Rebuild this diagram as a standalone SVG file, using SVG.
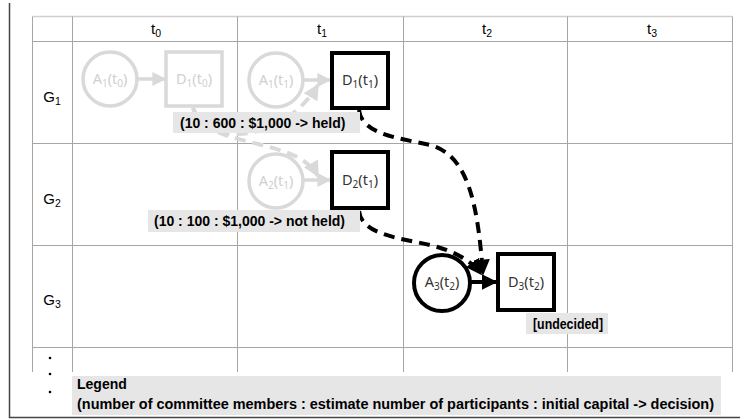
<svg xmlns="http://www.w3.org/2000/svg" width="740" height="419" viewBox="0 0 740 419">
<style>
.grid{stroke:#a6a6a6;stroke-width:1;fill:none}
.hdr{font-family:"Liberation Sans",Arial,sans-serif;font-size:15px;fill:#000;text-anchor:middle}
.nd{font-family:"Noto Sans","DejaVu Sans",sans-serif;font-size:14.5px;text-anchor:middle}
.bold{fill:#fff;stroke:#000;stroke-width:4}
.faded{fill:#fff;stroke:#d9d9d9;stroke-width:3.5}
.ft{fill:#d0d0d0}
.bt{fill:#333}
.lblbox{fill:#e6e6e6}
.lbl{font-family:"Liberation Sans",Arial,sans-serif;font-size:14px;font-weight:bold;fill:#000}
.dashb{fill:none;stroke:#000;stroke-width:4;stroke-dasharray:11 7}
.dashf{fill:none;stroke:#d9d9d9;stroke-width:4;stroke-dasharray:11 7}
</style>
<defs>
<marker id="ab" viewBox="0 0 10 10" refX="9" refY="5" markerWidth="4" markerHeight="4" markerUnits="strokeWidth" orient="auto">
<path d="M0,0 L10,5 L0,10 z" fill="#000"/>
</marker>
<marker id="af" viewBox="0 0 10 10" refX="9" refY="5" markerWidth="4" markerHeight="4" markerUnits="strokeWidth" orient="auto">
<path d="M0,0 L10,5 L0,10 z" fill="#d9d9d9"/>
</marker>
</defs>
<rect width="740" height="419" fill="#fff"/>
<!-- frame -->
<path d="M9.5,3 V417.5 H740" fill="none" stroke="#444" stroke-width="1.5"/>
<!-- table -->
<g id="table">
<line x1="32.5" y1="16.5" x2="732.5" y2="16.5" stroke="#cfcfcf" stroke-width="1.5"/>
<path class="grid" d="M32.5,41.5 H732.5 M32.5,143.5 H732.5 M32.5,245.5 H732.5 M32.5,347.5 H732.5"/>
<path class="grid" d="M32.5,16.5 V372 M72.5,16.5 V372 M237.5,16.5 V372 M403.5,16.5 V372 M567.5,16.5 V372 M732.5,16.5 V372"/>
<text class="hdr" x="156" y="34">t<tspan font-size="10.5" dy="3">0</tspan></text>
<text class="hdr" x="322" y="34">t<tspan font-size="10.5" dy="3">1</tspan></text>
<text class="hdr" x="487" y="34">t<tspan font-size="10.5" dy="3">2</tspan></text>
<text class="hdr" x="652" y="34">t<tspan font-size="10.5" dy="3">3</tspan></text>
<text class="hdr" x="52" y="102">G<tspan font-size="10.5" dy="3">1</tspan></text>
<text class="hdr" x="52" y="204">G<tspan font-size="10.5" dy="3">2</tspan></text>
<text class="hdr" x="52" y="305">G<tspan font-size="10.5" dy="3">3</tspan></text>
<circle cx="50" cy="358" r="1.3" fill="#000"/>
<circle cx="50" cy="374" r="1.3" fill="#000"/>
<circle cx="50" cy="392" r="1.3" fill="#000"/>
</g>
<!-- connectors -->
<g id="connectors">
<line x1="137" y1="79" x2="165" y2="79" stroke="#d9d9d9" stroke-width="3.5" marker-end="url(#af)"/>
<line x1="304" y1="80" x2="330" y2="80" stroke="#d9d9d9" stroke-width="3.5" marker-end="url(#af)"/>
<line x1="303" y1="180" x2="330" y2="180" stroke="#d9d9d9" stroke-width="3.5" marker-end="url(#af)"/>
<path class="dashf" d="M193,108 C205,150 295,135 318,176" marker-end="url(#af)"/>
<path class="dashf" d="M193,108 C210,150 285,140 318,85" marker-end="url(#af)"/>
<path class="dashb" d="M359,110 C362,135 400,138 430,145 C470,155 478,210 483,274" marker-end="url(#ab)"/>
<path class="dashb" d="M359,211 C362,235 400,238 430,245 C458,252 472,262 481,274" marker-end="url(#ab)"/>
<line x1="471" y1="282" x2="496" y2="282" stroke="#000" stroke-width="4" marker-end="url(#ab)"/>
</g>
<!-- nodes -->
<g id="A1t0"><circle class="faded" cx="110" cy="79" r="27"/><text class="nd ft" x="110" y="84">A<tspan font-size="10" dy="3">1</tspan><tspan dy="-3">(t</tspan><tspan font-size="10" dy="3">0</tspan><tspan dy="-3">)</tspan></text></g>
<g id="D1t0"><rect class="faded" x="166" y="52" width="56" height="54"/><text class="nd ft" x="194" y="84">D<tspan font-size="10" dy="3">1</tspan><tspan dy="-3">(t</tspan><tspan font-size="10" dy="3">0</tspan><tspan dy="-3">)</tspan></text></g>
<g id="A1t1"><circle class="faded" cx="276" cy="80" r="27"/><text class="nd ft" x="276" y="85">A<tspan font-size="10" dy="3">1</tspan><tspan dy="-3">(t</tspan><tspan font-size="10" dy="3">1</tspan><tspan dy="-3">)</tspan></text></g>
<g id="D1t1"><rect class="bold" x="332" y="53" width="56" height="55"/><text class="nd bt" x="360" y="85">D<tspan font-size="10" dy="3">1</tspan><tspan dy="-3">(t</tspan><tspan font-size="10" dy="3">1</tspan><tspan dy="-3">)</tspan></text></g>
<g id="A2t1"><circle class="faded" cx="276" cy="181" r="27"/><text class="nd ft" x="276" y="186">A<tspan font-size="10" dy="3">2</tspan><tspan dy="-3">(t</tspan><tspan font-size="10" dy="3">1</tspan><tspan dy="-3">)</tspan></text></g>
<g id="D2t1"><rect class="bold" x="332" y="152" width="56" height="56"/><text class="nd bt" x="360" y="185">D<tspan font-size="10" dy="3">2</tspan><tspan dy="-3">(t</tspan><tspan font-size="10" dy="3">1</tspan><tspan dy="-3">)</tspan></text></g>
<g id="A3t2"><circle class="bold" cx="442" cy="283" r="28"/><text class="nd bt" x="442" y="287">A<tspan font-size="10" dy="3">3</tspan><tspan dy="-3">(t</tspan><tspan font-size="10" dy="3">2</tspan><tspan dy="-3">)</tspan></text></g>
<g id="D3t2"><rect class="bold" x="498" y="254" width="56" height="56"/><text class="nd bt" x="526" y="287">D<tspan font-size="10" dy="3">3</tspan><tspan dy="-3">(t</tspan><tspan font-size="10" dy="3">2</tspan><tspan dy="-3">)</tspan></text></g>
<!-- labels -->
<g id="label1"><rect class="lblbox" x="173" y="112" width="187" height="21"/><text class="lbl" x="180" y="127.5">(10 : 600 : $1,000 -&gt; held)</text></g>
<g id="label2"><rect class="lblbox" x="148" y="210" width="212" height="22"/><text class="lbl" x="154" y="226">(10 : 100 : $1,000 -&gt; not held)</text></g>
<g id="label3"><rect class="lblbox" x="526" y="313" width="82" height="21"/><text class="lbl" x="533" y="328.5" textLength="70" lengthAdjust="spacingAndGlyphs">[undecided]</text></g>
<g id="legend"><rect class="lblbox" x="72" y="376" width="649" height="39"/><text class="lbl" x="77" y="389">Legend</text><text class="lbl" x="77" y="409" textLength="637" lengthAdjust="spacingAndGlyphs">(number of committee members : estimate number of participants : initial capital -&gt; decision)</text></g>
</svg>
